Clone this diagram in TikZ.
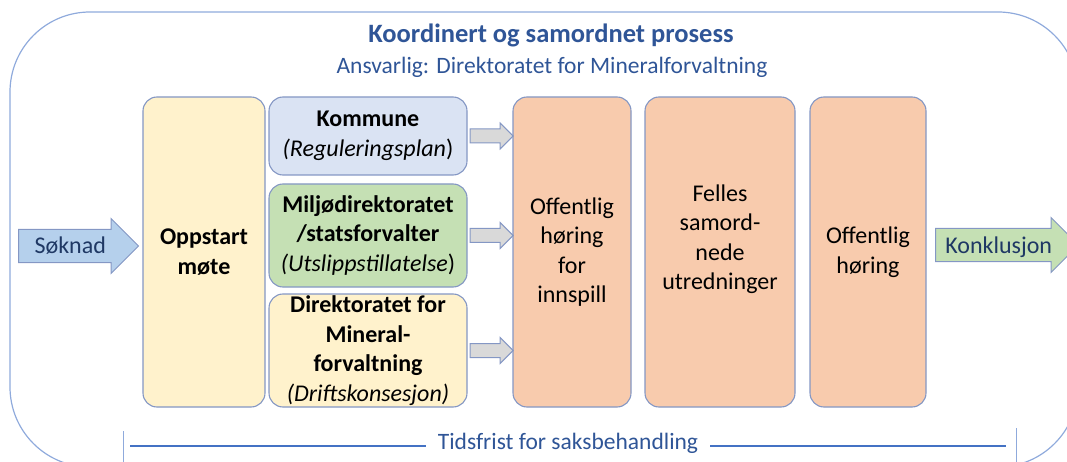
\documentclass[tikz,border=0pt]{standalone}
\usepackage{fontspec}
\setmainfont{Carlito}
\usetikzlibrary{shapes.arrows}

\definecolor{rimblue}{RGB}{143,170,220}
\definecolor{edgeblue}{RGB}{132,151,196}
\definecolor{titleblue}{RGB}{47,85,151}
\definecolor{lineblue}{RGB}{68,114,196}
\definecolor{navy}{RGB}{31,56,100}
\definecolor{colorYellow}{RGB}{255,242,204}
\definecolor{colorBlue}{RGB}{218,227,243}
\definecolor{colorGreen}{RGB}{197,224,180}
\definecolor{colorOrange}{RGB}{248,203,173}
\definecolor{colorArrow}{RGB}{181,208,236}
\definecolor{colorGrey}{RGB}{217,217,217}

\begin{document}
\begin{tikzpicture}[x=1pt,y=1pt,yscale=-1,xscale=1,
  box/.style={draw=edgeblue, line width=1.1pt, rounded corners=14pt, align=center,
    inner sep=0pt, font=\fontsize{24}{29.5}\selectfont},
  tallbox/.style={box, minimum height=310pt},
  sidebox/.style={box, minimum width=198pt},
  smallarrow/.style={single arrow, draw=edgeblue, fill=colorGrey, line width=1pt,
    minimum height=43pt, minimum width=25pt, inner ysep=6.5pt, inner xsep=0pt,
    single arrow head extend=6pt},
  bigarrow/.style={single arrow, draw=edgeblue, line width=1pt, text=navy,
    font=\fontsize{24}{28}\selectfont, inner ysep=8pt, inner xsep=2pt,
    text height=16pt, text depth=0pt, single arrow head extend=11pt},
  timeline/.style={lineblue, line width=2.5pt},
  tick/.style={rimblue, line width=1pt}
]

% --- CONFIGURATION ---
\useasboundingbox (0,0) rectangle (1067,462);
\clip (0,0) rectangle (1067,462);

% --- OUTER FRAME ---
\draw [rimblue, line width=1.2pt, rounded corners=80pt] (10,12) rectangle (1078,467);

% --- TITLE ---
\node [titleblue, font=\fontsize{26.5}{30}\selectfont\bfseries] (title) at (551,35) {Koordinert og samordnet prosess};
\node [titleblue, font=\fontsize{23.5}{28}\selectfont] (subtitle) at (552,67) {Ansvarlig: Direktoratet for Mineralforvaltning};

% --- BOXES ---
\node [tallbox, fill=colorYellow, minimum width=122pt] (oppstart) at (204,252) {\textbf{Oppstart}\\\textbf{møte}};

\node [sidebox, fill=colorBlue, minimum height=78pt] (kommune) at (368,136)
  {\textbf{Kommune}\\\textit{(Reguleringsplan})};
\node [sidebox, fill=colorGreen, minimum height=103pt] (miljo) at (368,235.5)
  {\textbf{Miljødirektoratet}\\\textbf{/statsforvalter}\\\textit{(Utslippstillatelse})};
\node [sidebox, fill=colorYellow, minimum height=113pt] (dirmin) at (368,350.5)
  {\textbf{Direktoratet for}\\\textbf{Mineral-}\\\textbf{forvaltning}\\\textit{(Driftskonsesjon)}};

\node [tallbox, fill=colorOrange, minimum width=118pt] (horing) at (572,252) {Offentlig\\høring\\for\\innspill};
\node [tallbox, fill=colorOrange, minimum width=150pt] (felles) at (720,252) {Felles\\samord-\\nede\\utredninger\\\mbox{}};
\node [tallbox, fill=colorOrange, minimum width=116pt] (sluttho) at (868,252) {Offentlig\\høring};

% --- ARROWS ---
\node [smallarrow, anchor=tail] (arrKommune) at ([xshift=2pt]kommune.east) {};
\node [smallarrow, anchor=tail] (arrMiljo) at ([xshift=2pt]miljo.east) {};
\node [smallarrow, anchor=tail] (arrDirmin) at ([xshift=2pt]dirmin.east) {};

\node [bigarrow, fill=colorArrow, anchor=tail, minimum height=120pt] (soknad) at (18,246) {Søknad};
\node [bigarrow, fill=colorGreen, anchor=tail, minimum height=143pt] (konklusjon) at (935,245) {Konklusjon};

% --- TIME LINE ---
\node [titleblue, font=\fontsize{23.5}{28}\selectfont, inner xsep=12pt] (tidsfrist) at (568,443) {Tidsfrist for saksbehandling};
\coordinate (tidStart) at (130,446);
\coordinate (tidEnd) at (1006,446);
\draw [timeline] (tidStart) -- (tidStart -| tidsfrist.west);
\draw [timeline] (tidsfrist.east |- tidEnd) -- (tidEnd);
\draw [tick] (123,431) -- (123,470);
\draw [tick] (1016,428) -- (1016,470);

\end{tikzpicture}
\end{document}
